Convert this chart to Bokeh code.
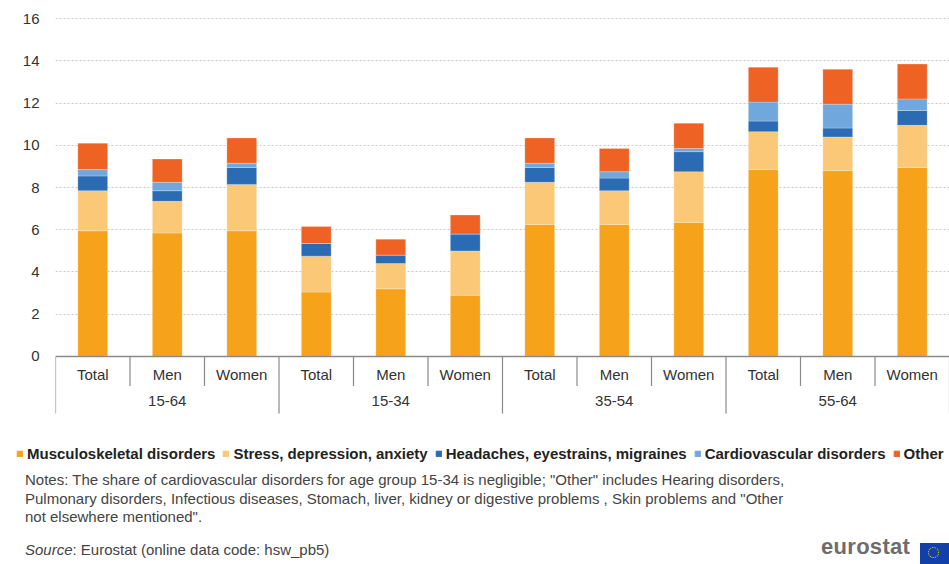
from bokeh.plotting import figure
from bokeh.models import (FactorRange, ColumnDataSource, FixedTicker, Div, Span,
                          Legend, LegendItem, Range1d)
from bokeh.layouts import column, row
from bokeh.core.properties import value
from bokeh.embed import file_html
from bokeh.resources import INLINE

groups = ["15-64", "15-34", "35-54", "55-64"]
sexes = ["Total", "Men", "Women"]
series_names = ["Musculoskeletal disorders", "Stress, depression, anxiety",
                "Headaches, eyestrains, migraines", "Cardiovascular disorders", "Other"]
musculoskeletal = [5.95, 5.85, 5.95, 3.05, 3.2, 2.9, 6.25, 6.25, 6.35, 8.85, 8.8, 8.95]
stress = [1.9, 1.5, 2.2, 1.7, 1.2, 2.1, 2.0, 1.6, 2.4, 1.8, 1.6, 2.0]
headaches = [0.7, 0.5, 0.8, 0.6, 0.4, 0.8, 0.7, 0.6, 0.95, 0.5, 0.42, 0.7]
cardiovascular = [0.3, 0.4, 0.2, 0.0, 0.0, 0.0, 0.2, 0.3, 0.15, 0.9, 1.13, 0.55]
other = [1.25, 1.1, 1.2, 0.8, 0.75, 0.9, 1.2, 1.1, 1.2, 1.65, 1.65, 1.65]
y_ticks = [0, 2, 4, 6, 8, 10, 12, 14, 16]

colors = ["#F6A21B", "#FAC877", "#2A6BB3", "#70A7DC", "#EE6224"]
FONT = "Liberation Sans"

factors = [(g, s) for g in groups for s in sexes]
keys = ["musc", "stress", "head", "cardio", "other"]
src = ColumnDataSource(dict(x=factors, musc=musculoskeletal, stress=stress,
                            head=headaches, cardio=cardiovascular, other=other))

p = figure(x_range=FactorRange(*factors, factor_padding=0, group_padding=0, range_padding=0),
           y_range=(-2.8, 16.2), width=949, height=430,
           output_backend="svg", toolbar_location=None,
           min_border_left=55, min_border_right=0, min_border_top=14, min_border_bottom=15)

renderers = p.vbar_stack(keys, x="x", width=0.4, color=colors, source=src,
                         line_color="white", line_width=0.4, line_alpha=0.6)

# axes
p.xaxis.visible = False
p.yaxis.ticker = FixedTicker(ticks=y_ticks)
p.yaxis.axis_line_color = None
p.yaxis.major_tick_line_color = None
p.yaxis.minor_tick_line_color = None
p.yaxis.major_label_standoff = 10
p.yaxis.major_label_text_font = FONT
p.yaxis.major_label_text_font_size = "15px"
p.yaxis.major_label_text_color = "#333333"
p.xgrid.grid_line_color = None
p.ygrid.ticker = FixedTicker(ticks=y_ticks[1:])
p.ygrid.grid_line_color = "#c8c8c8"
p.ygrid.grid_line_dash = "2 2"
p.outline_line_color = None
p.background_fill_color = "white"
p.border_fill_color = "white"

# baseline
p.add_layout(Span(location=0, dimension="width", line_color="#8a8a8a", line_width=1.5))

# category labels and separators
lab = ColumnDataSource(dict(x=factors, y=[-0.85] * len(factors), t=[f[1] for f in factors]))
p.text(x="x", y="y", text="t", source=lab, text_align="center", text_baseline="middle",
       text_font=value(FONT), text_font_size="15px", text_color="#333333")
glab = ColumnDataSource(dict(x=[(g, "Men") for g in groups], y=[-2.13] * len(groups), t=groups))
p.text(x="x", y="y", text="t", source=glab, text_align="center", text_baseline="middle",
       text_font=value(FONT), text_font_size="15px", text_color="#333333")

short_x = [(g, s, -0.5) for g in groups for s in sexes[1:]]
p.segment(x0=short_x, x1=short_x, y0=[0] * len(short_x), y1=[-1.4] * len(short_x),
          line_color="#8a8a8a", line_width=1.2)
long_x = [(g, "Total", -0.5) for g in groups] + [(groups[-1], "Women", 0.5)]
p.segment(x0=long_x, x1=long_x, y0=[0] * len(long_x), y1=[-2.7] * len(long_x),
          line_color="#8a8a8a", line_width=1.2)

# legend strip (its own small figure so it can span the full width)
pl = figure(width=949, height=40, x_range=Range1d(0, 1), y_range=Range1d(0, 1),
            output_backend="svg", toolbar_location=None,
            x_axis_location=None, y_axis_location=None,
            min_border_left=0, min_border_right=0, min_border_top=0, min_border_bottom=0)
pl.grid.visible = False
pl.outline_line_color = None
# swatch renderers (one off-view point each, only used to draw the legend keys)
swatches = [pl.vbar(x=[-1], top=[-1], width=0.1, color=c) for c in colors]
lg = Legend(items=[LegendItem(label=n, renderers=[r]) for n, r in zip(series_names, swatches)],
            orientation="horizontal", location=(16, 8))
lg.label_text_font = FONT
lg.label_text_font_size = "15px"
lg.label_text_font_style = "bold"
lg.label_text_color = "#222222"
lg.glyph_width = 7
lg.glyph_height = 7
lg.label_standoff = 4
lg.spacing = 7
lg.padding = 4
lg.margin = 0
lg.label_height = 16
lg.background_fill_alpha = 0
lg.border_line_color = None
pl.add_layout(lg, "center")

notes = Div(width=949, height=94, margin=(0, 0, 0, 0), text="""
<div style="position:relative;width:949px;height:94px;font-family:'Liberation Sans',Arial,sans-serif;color:#444;font-size:15px;line-height:18.5px;">
  <div style="position:absolute;left:25px;top:1px;width:900px;white-space:nowrap;">
    Notes: The share of cardiovascular disorders for age group 15-34 is negligible; "Other" includes Hearing disorders,<br>
    Pulmonary disorders, Infectious diseases, Stomach, liver, kidney or digestive problems , Skin problems and "Other<br>
    not elsewhere mentioned".
  </div>
  <div style="position:absolute;left:25px;top:71px;white-space:nowrap;"><i>Source</i>: Eurostat (online data code: hsw_pb5)</div>
  <div style="position:absolute;left:821px;top:68px;font-size:22px;font-weight:bold;color:#6d6d6d;letter-spacing:0.3px;">eurostat</div>
  <div style="position:absolute;left:920px;top:73px;width:29px;height:21px;background:#1140a8;">
    <div style="position:absolute;left:8px;top:4px;width:11px;height:11px;border:1.5px dotted #ffd617;border-radius:50%;"></div>
  </div>
</div>
""")

layout = column(p, row(pl, margin=(0, 0, 0, 0)), notes, spacing=0, margin=(0, 0, 0, 0))
open("out.html", "w").write(file_html(layout, INLINE))
